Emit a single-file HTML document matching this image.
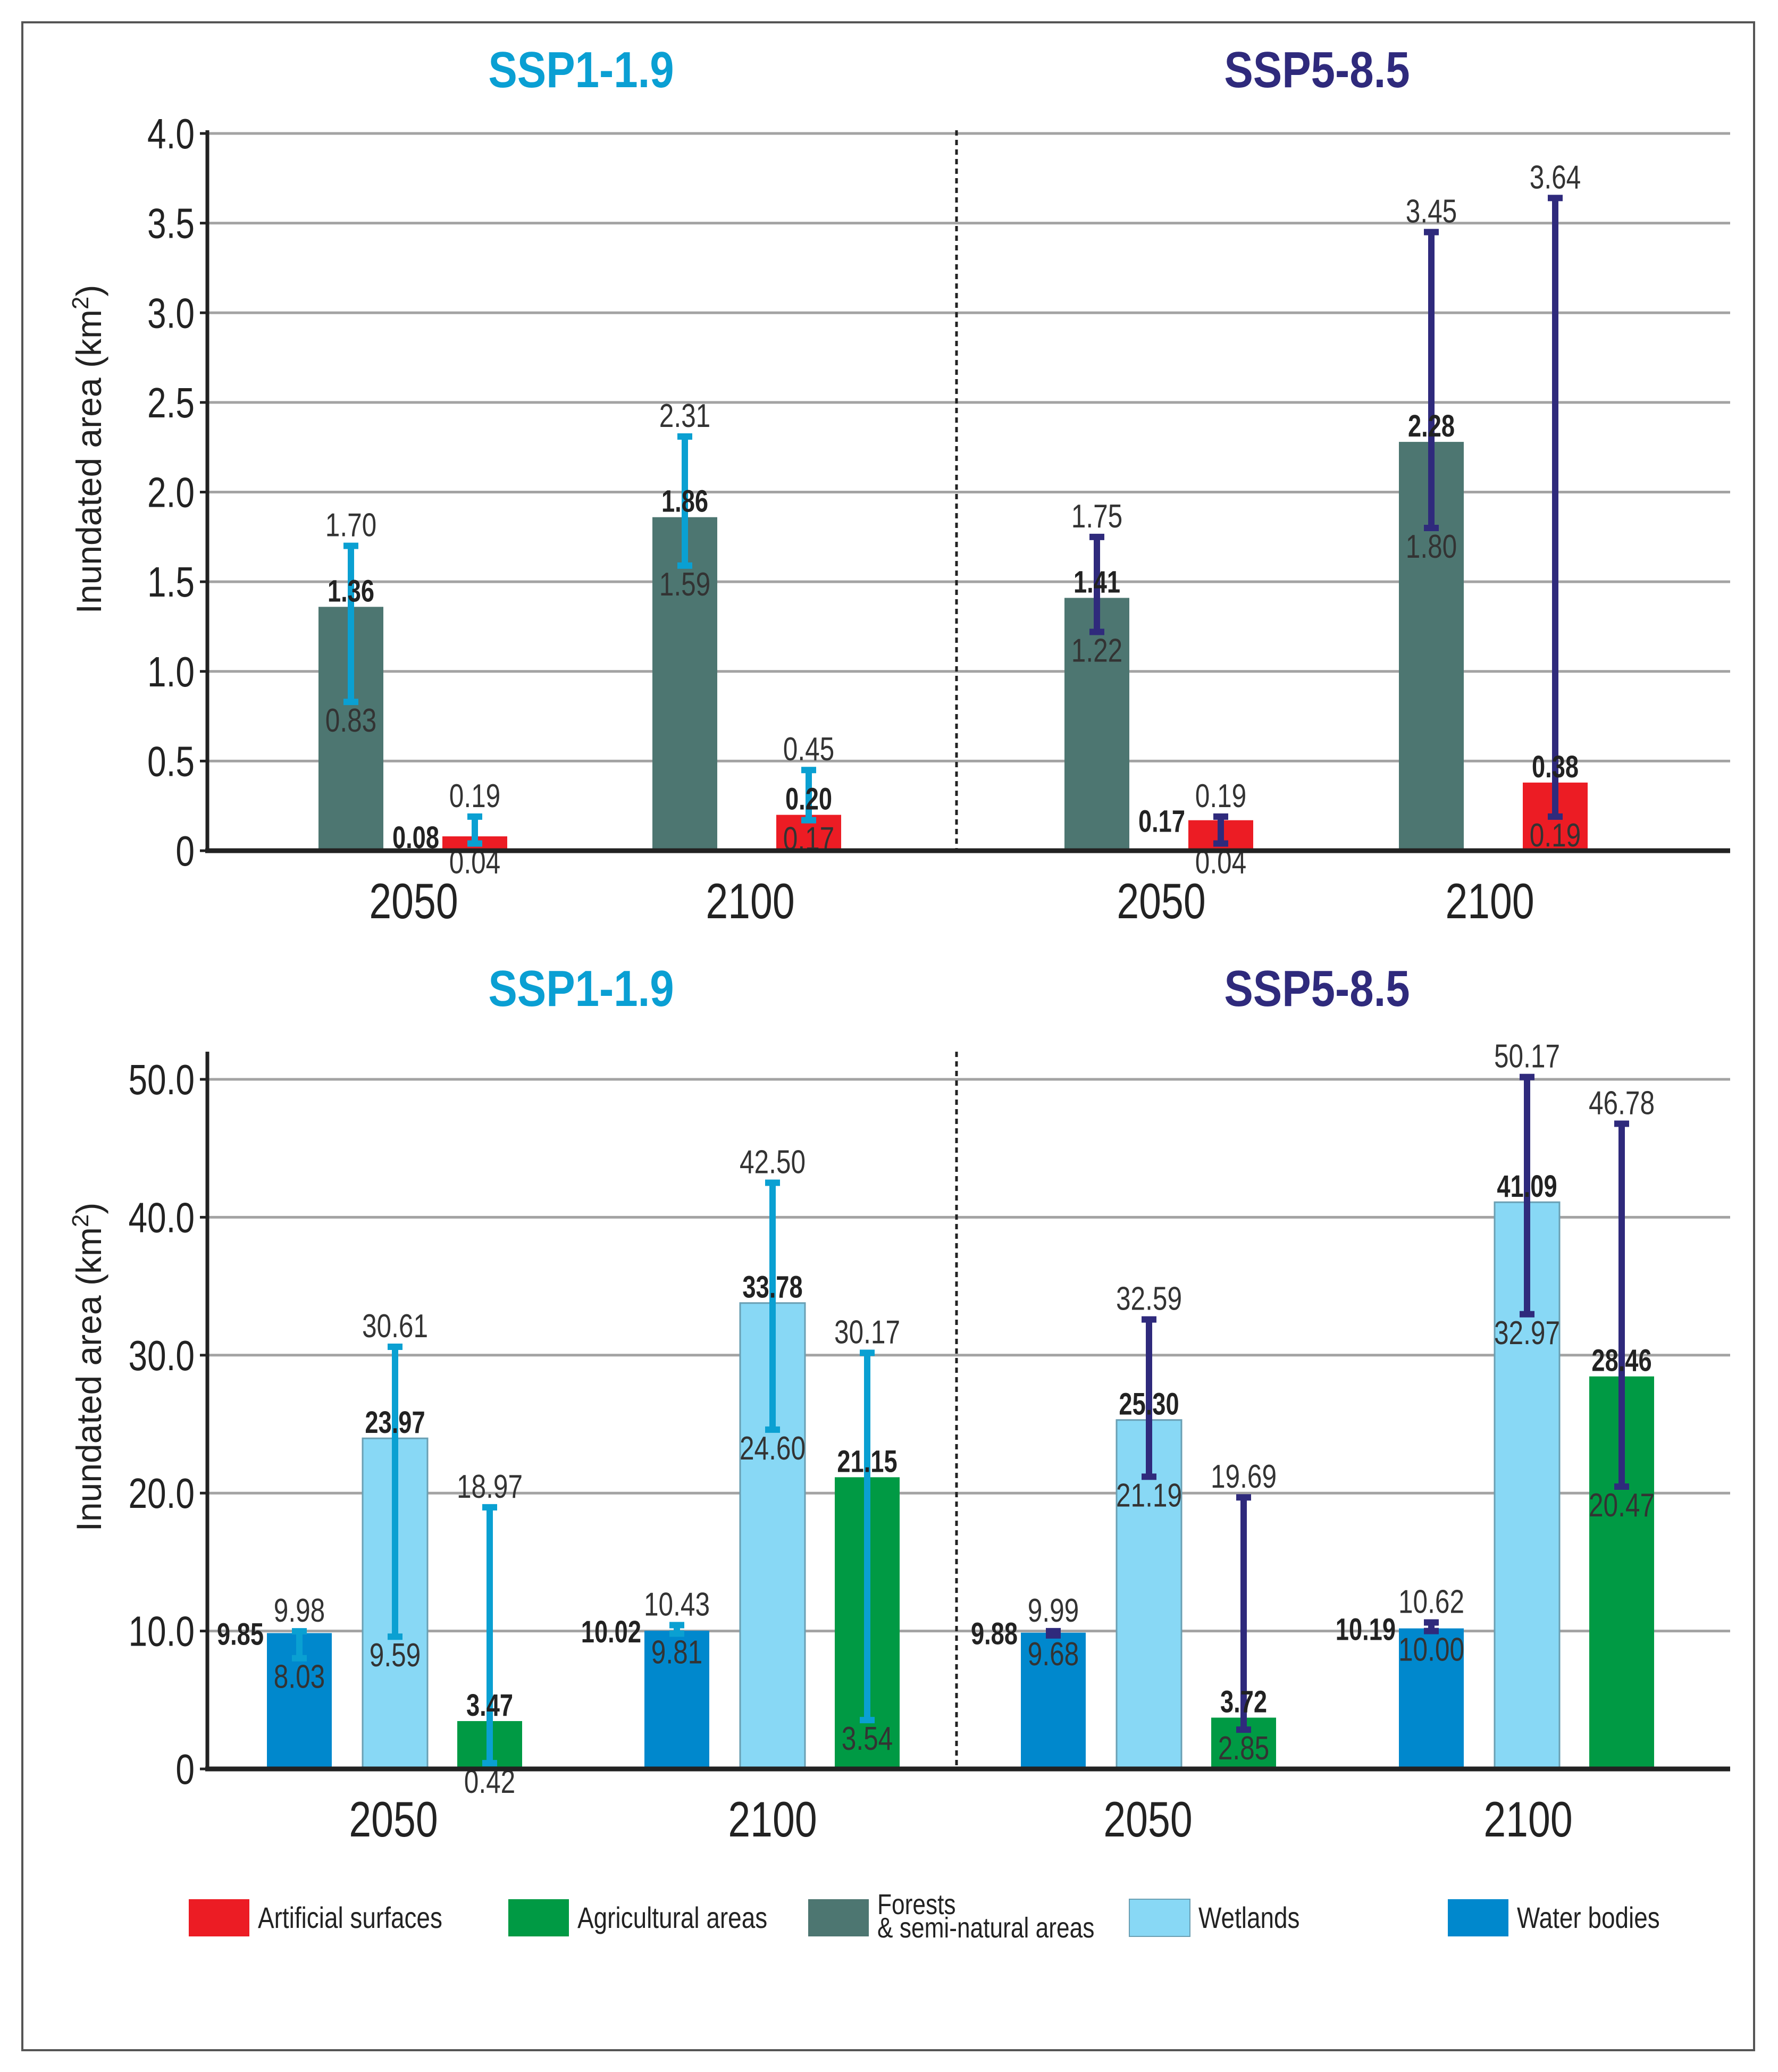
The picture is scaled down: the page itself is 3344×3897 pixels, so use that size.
<!DOCTYPE html>
<html><head><meta charset="utf-8">
<style>
html,body{margin:0;padding:0;background:#fff;}
svg{display:block;}
text{font-family:"Liberation Sans Narrow","Liberation Sans",sans-serif;}
</style></head>
<body>
<svg id="fig" xmlns="http://www.w3.org/2000/svg" width="3344" height="3897" viewBox="0 0 3344 3897">
<rect x="42" y="42" width="3257" height="3814" fill="#fff" stroke="#555" stroke-width="4"/>
<g id="top"></g>
<g id="bot"></g>
<g id="legend"></g>
</svg>
<script>
// ---------- data ----------
const scenarios = ["SSP1-1.9", "SSP5-8.5"];
const years = ["2050", "2100", "2050", "2100"];
const topSeries = ["forests", "artificial"];
const topMean = [1.36, 0.08, 1.86, 0.20, 1.41, 0.17, 2.28, 0.38];
const topLow  = [0.83, 0.04, 1.59, 0.17, 1.22, 0.04, 1.80, 0.19];
const topHigh = [1.70, 0.19, 2.31, 0.45, 1.75, 0.19, 3.45, 3.64];
const topMeanLeft = [false, true, false, false, false, true, false, false];
const topTicks = [0, 0.5, 1.0, 1.5, 2.0, 2.5, 3.0, 3.5, 4.0];
const topTickLabels = ["0", "0.5", "1.0", "1.5", "2.0", "2.5", "3.0", "3.5", "4.0"];
const botSeries = ["water", "wetlands", "agricultural"];
const botMean = [9.85, 23.97, 3.47, 10.02, 33.78, 21.15, 9.88, 25.30, 3.72, 10.19, 41.09, 28.46];
const botLow  = [8.03, 9.59, 0.42, 9.81, 24.60, 3.54, 9.68, 21.19, 2.85, 10.00, 32.97, 20.47];
const botHigh = [9.98, 30.61, 18.97, 10.43, 42.50, 30.17, 9.99, 32.59, 19.69, 10.62, 50.17, 46.78];
const botMeanLeft = [true, false, false, true, false, false, true, false, false, true, false, false];
const botTicks = [0, 10, 20, 30, 40, 50];
const botTickLabels = ["0", "10.0", "20.0", "30.0", "40.0", "50.0"];
const legendLabels = ["Artificial surfaces", "Agricultural areas", "Forests|& semi-natural areas", "Wetlands", "Water bodies"];

const colors = {artificial:"#ec1c24", agricultural:"#009a44", forests:"#4d7671", wetlands:"#88d8f5", water:"#0088cd"};
const errColors = ["#0aa0d2", "#2f2a7c"];
const NS = "http://www.w3.org/2000/svg";
const SX = 0.8;
function mk(parent, tag, attrs, txt){
  const e = document.createElementNS(NS, tag);
  for (const k in attrs) e.setAttribute(k, attrs[k]);
  if (txt !== undefined) e.textContent = txt;
  parent.appendChild(e);
  return e;
}
function ctext(parent, x, y, attrs, txt, sx){
  const a = Object.assign({}, attrs);
  a.transform = `translate(${x},${y}) scale(${sx || SX},1)`;
  a.x = 0; a.y = 0;
  return mk(parent, "text", a, txt);
}
function fmt(v){ return v.toFixed(2); }

function drawChart(g, cfg){
  const y = v => cfg.y0 - v * (cfg.y0 - cfg.yTop) / cfg.vmax;
  cfg.ticks.forEach((t, i) => {
    if (t !== 0) {
      const gl = mk(g, "line", {x1:cfg.axisX, x2:3254, y1:y(t), y2:y(t), stroke:"#a3a3a3", "stroke-width":5});
      
      
    }
    const tk = mk(g, "line", {x1:cfg.axisX-14, x2:cfg.axisX, y1:y(t), y2:y(t), stroke:"#222", "stroke-width":5});
    
    
    const tl = ctext(g, cfg.axisX-24, y(t)+28, {"text-anchor":"end", "font-size":80, fill:"#222"}, cfg.tickLabels[i]);
    
    
  });
  const dv = mk(g, "line", {x1:1799, x2:1799, y1:cfg.axisTop, y2:cfg.y0, stroke:"#222", "stroke-width":5, "stroke-dasharray":"10,8"});
  
  
  const n = cfg.series.length;
  cfg.mean.forEach((m, i) => {
    const gi = Math.floor(i / n), si = i % n;
    const x = cfg.groupX[gi] + cfg.offsets[si];
    const w = 122, cx = x + w/2;
    const ser = cfg.series[si];
    const r = mk(g, "rect", {x:x, y:y(m), width:w, height:cfg.y0 - y(m), fill:colors[ser], stroke: ser==="wetlands" ? "#6a9fb3" : "none", "stroke-width":3});
    
    
    const ec = errColors[gi < 2 ? 0 : 1];
    const yl = y(cfg.low[i]), yh = y(cfg.high[i]);
    const eb = mk(g, "path", {d:`M${cx},${yl}V${yh}M${cx-14},${yl}H${cx+14}M${cx-14},${yh}H${cx+14}`, stroke:ec, "stroke-width":12, fill:"none"});
    
    
    const ht = ctext(g, cx, yh-18, {"text-anchor":"middle", "font-size":62, fill:"#333"}, fmt(cfg.high[i]));
    
    
    const lt = ctext(g, cx, yl+56, {"text-anchor":"middle", "font-size":62, fill:"#333"}, fmt(cfg.low[i]));
    
    
    const ml = cfg.meanLeft[i];
    const mt = ctext(g, ml ? x-6 : cx, ml ? y(m)+22 : y(m)-10, {"text-anchor": ml ? "end" : "middle", "font-size":58, "font-weight":"bold", fill:"#222"}, fmt(m), 0.78);
    
    
  });
  const ay = mk(g, "line", {x1:cfg.axisX, x2:cfg.axisX, y1:cfg.axisTop, y2:cfg.y0+4, stroke:"#222", "stroke-width":7});
  
  
  const ax = mk(g, "line", {x1:cfg.axisX-4, x2:3254, y1:cfg.y0, y2:cfg.y0, stroke:"#222", "stroke-width":9});
  
  
  years.forEach((yr, i) => {
    const t = ctext(g, cfg.yearX[i], cfg.yearY, {"text-anchor":"middle", "font-size":94, fill:"#222"}, yr);
    
    
  });
  const t1 = ctext(g, 1093, cfg.titleY, {"text-anchor":"middle", "font-size":96, "font-weight":"bold", fill:"#0a9fd3"}, scenarios[0], 0.85);
  
  
  const t2 = ctext(g, 2477, cfg.titleY, {"text-anchor":"middle", "font-size":96, "font-weight":"bold", fill:"#2f2a7c"}, scenarios[1], 0.85);
  
  
  const yt = mk(g, "text", {transform:`translate(190,${cfg.yTitleY}) rotate(-90)`, "text-anchor":"middle", "font-size":66, fill:"#222", "font-family":"Liberation Sans, sans-serif"});
  
  
  yt.appendChild(document.createTextNode("Inundated area (km"));
  mk(yt, "tspan", {"baseline-shift":"super", "font-size":44}, "2");
  mk(yt, "tspan", {}, ")");
}

drawChart(document.getElementById("top"), {
  y0:1600, yTop:251, vmax:4, axisX:390, axisTop:245,
  ticks:topTicks, tickLabels:topTickLabels, series:topSeries,
  mean:topMean, low:topLow, high:topHigh, meanLeft:topMeanLeft,
  groupX:[599, 1227, 2002, 2631], offsets:[0, 233],
  yearX:[778, 1411, 2184, 2802], yearY:1727, titleY:164, yTitleY:845
});
drawChart(document.getElementById("bot"), {
  y0:3327, yTop:2030, vmax:50, axisX:390, axisTop:1978,
  ticks:botTicks, tickLabels:botTickLabels, series:botSeries,
  mean:botMean, low:botLow, high:botHigh, meanLeft:botMeanLeft,
  groupX:[502, 1212, 1920, 2631], offsets:[0, 180, 358],
  yearX:[740, 1453, 2159, 2874], yearY:3454, titleY:1892, yTitleY:2571
});

const lg = document.getElementById("legend");
const legSeries = ["artificial", "agricultural", "forests", "wetlands", "water"];
const legBoxX = [355, 956, 1520, 2124, 2723];
legSeries.forEach((s, i) => {
  const b = mk(lg, "rect", {x:legBoxX[i], y:3572, width:114, height:70, fill:colors[s], stroke: s==="wetlands" ? "#6a9fb3" : "none", "stroke-width":2});
  
  
  const parts = legendLabels[i].split("|");
  if (parts.length === 1) {
    const t = ctext(lg, legBoxX[i]+130, 3626, {"font-size":56, fill:"#222"}, parts[0], 0.82);
    
    
  } else {
    const t = ctext(lg, legBoxX[i]+130, 3600, {"font-size":54, fill:"#222"}, parts[0], 0.82);
    
    
    const t2 = ctext(lg, legBoxX[i]+130, 3644, {"font-size":54, fill:"#222"}, parts[1], 0.82);
    
    
  }
});
</script>
</body></html>
